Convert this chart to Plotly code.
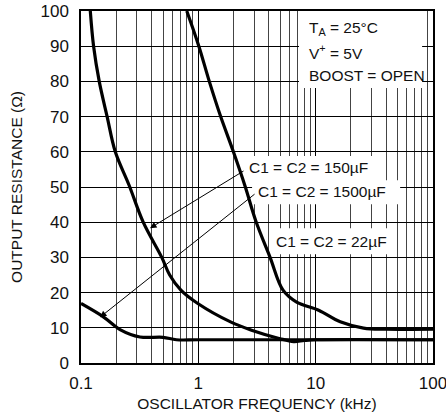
import plotly.graph_objects as go

# Data
f150 = [0.120, 0.128, 0.143, 0.167, 0.196, 0.257, 0.339, 0.488, 0.57, 0.71, 0.99, 1.9, 2.8, 4.97, 6.5, 8, 10, 100]
r150 = [100, 90, 80, 70, 60, 50.5, 40, 30, 25, 20.7, 16.9, 11.6, 9.4, 6.9, 6.1, 6.4, 6.6, 6.6]

f1500 = [0.1, 0.155, 0.215, 0.318, 0.5, 0.65, 1.0, 10, 100]
r1500 = [16.9, 13.1, 9.5, 7.4, 7.3, 6.6, 6.6, 6.6, 6.6]

f22 = [0.797, 1.01, 1.24, 1.55, 1.99, 2.5, 3.1, 4.08, 5.27, 6.88, 10.6, 16.2, 25.6, 40, 100]
r22 = [100, 90, 80, 70, 60, 50.3, 40.2, 30.1, 20.7, 17.3, 15, 11.7, 9.9, 9.6, 9.6]

x_major = [0.1, 1, 10, 100]
x_major_text = ["0.1", "1", "10", "100"]
x_minor = [m * d for d in (0.1, 1, 10) for m in range(2, 10)]
y_ticks = list(range(0, 101, 10))

FONT = "Liberation Sans, Arial, sans-serif"

fig = go.Figure()
for fx, ry in ((f150, r150), (f1500, r1500), (f22, r22)):
    fig.add_trace(go.Scatter(x=fx, y=ry, mode="lines",
                             line=dict(color="black", width=3.2, shape="spline", smoothing=1.0),
                             showlegend=False, hoverinfo="skip"))

# white backgrounds behind text (between grid and traces)
boxes = [
    (0.858, 1.907, 78.1, 100),   # conditions box
    (0.381, 1.481, 51.7, 58.8),  # 150uF
    (0.458, 1.72, 45.1, 51.9),   # 1500uF
    (0.611, 1.651, 30.9, 38.3),  # 22uF
]
for x0, x1, y0, y1 in boxes:
    fig.add_shape(type="rect", xref="x", yref="y", x0=10**x0, x1=10**x1, y0=y0, y1=y1,
                  fillcolor="white", line=dict(width=0), layer="between")

txt = dict(showarrow=False, xanchor="left", yanchor="middle",
           font=dict(family=FONT, size=15.5, color="#111"))
fig.add_annotation(x=0.927, y=(362.7 - 28) / 3.517, text="T<sub>A</sub> = 25°C", **txt)
fig.add_annotation(x=0.927, y=(362.7 - 52) / 3.517, text="V<sup>+</sup> = 5V", **txt)
fig.add_annotation(x=0.927, y=(362.7 - 75) / 3.517, text="BOOST = OPEN", **txt)
fig.add_annotation(x=0.415, y=55.4, text="C1 = C2 = 150µF", **txt)
fig.add_annotation(x=0.492, y=48.8, text="C1 = C2 = 1500µF", **txt)
fig.add_annotation(x=0.645, y=34.4, text="C1 = C2 = 22µF", **txt)

# arrows
arr = dict(text="", showarrow=True, xref="x", yref="y", axref="x", ayref="y",
           arrowhead=2, arrowsize=1.3, arrowwidth=1, arrowcolor="black")
fig.add_annotation(x=-0.412, y=38.3, ax=0.398, ay=54.8, **arr)
fig.add_annotation(x=-0.838, y=13.0, ax=0.492, ay=48.3, **arr)

fig.update_layout(
    width=446, height=416,
    margin=dict(l=81, r=13, t=11, b=53),
    paper_bgcolor="white", plot_bgcolor="white",
    font=dict(family=FONT, size=17, color="#111"),
    xaxis=dict(type="log", range=[-1, 2], tickmode="array", tickvals=x_major,
               ticktext=x_major_text, showgrid=True, gridcolor="black", gridwidth=1,
               minor=dict(tickmode="array", tickvals=x_minor, showgrid=True,
                          gridcolor="#444", gridwidth=1, ticks=""),
               showline=True, linecolor="black", linewidth=1.5, mirror=True,
               ticks="", ticklabelstandoff=4, zeroline=False, automargin=False,
               ticklabeloverflow="allow",
               title=dict(text="OSCILLATOR FREQUENCY (kHz)", standoff=6,
                          font=dict(family=FONT, size=15.5))),
    yaxis=dict(range=[0, 100], tickmode="array", tickvals=y_ticks,
               showgrid=True, gridcolor="black", gridwidth=1,
               showline=True, linecolor="black", linewidth=1.5, mirror=True,
               ticks="", ticklabelstandoff=7, zeroline=False, automargin=False,
               ticklabeloverflow="allow",
               title=dict(text="OUTPUT RESISTANCE (Ω)", standoff=14,
                          font=dict(family=FONT, size=15.5))),
)

# remove the default 8px page margin so the figure sits at the window's corner
fig.write_html("out.html", config={"displayModeBar": False},
               post_script="document.body.style.margin='0';")
